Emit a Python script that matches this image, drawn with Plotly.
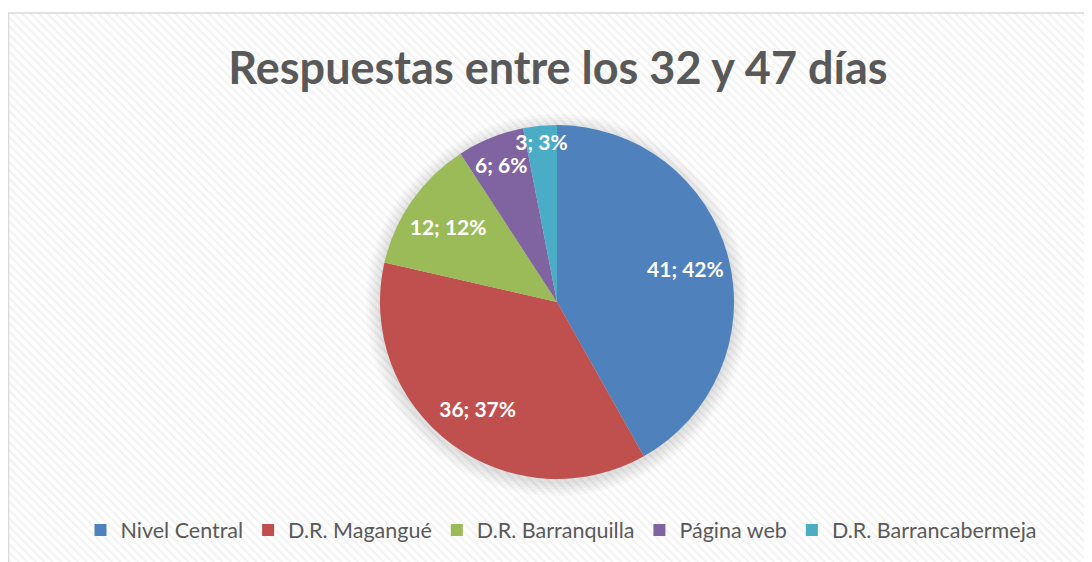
import numpy as np
import plotly.graph_objects as go

categories = ["Nivel Central", "D.R. Magangué", "D.R. Barranquilla", "Página web", "D.R. Barrancabermeja"]
values = [41, 36, 12, 6, 3]
colors = ["#4F81BD", "#C0504D", "#9BBB59", "#8064A2", "#4BACC6"]

W, H = 1092, 562
CX, CY, R = 549, 294, 177  # pie centre / radius in page pixels (from top-left)
dom = dict(x=[(CX - R) / W, (CX + R) / W], y=[(H - CY - R) / H, (H - CY + R) / H])

fig = go.Figure()
# hatched chart-area background (pixel-based axes)
fig.add_trace(go.Bar(x=[W / 2], y=[H - 5], width=[W], base=[0], showlegend=False, hoverinfo="skip",
                     marker=dict(color="white", line=dict(width=0),
                                 pattern=dict(shape="\\", fgcolor="#e6e6e6", bgcolor="white",
                                              size=6, solidity=0.35))))
# soft shadow behind pie
t = np.linspace(0, 2 * np.pi, 181)
for d in (14, 11, 8, 5, 2):
    fig.add_trace(go.Scatter(x=CX + (R + d) * np.cos(t), y=H - (CY + 3) + (R + d) * np.sin(t),
                             mode="lines", fill="toself", fillcolor="rgba(0,0,0,0.025)",
                             line=dict(width=0), showlegend=False, hoverinfo="skip"))
fig.add_trace(go.Pie(
    labels=categories, values=values, sort=False, direction="clockwise", rotation=0,
    marker=dict(colors=colors, line=dict(width=0)),
    textinfo="none", domain=dom, hoverinfo="skip",
))
# label layer
fig.add_trace(go.Pie(
    labels=categories, values=values, sort=False, direction="clockwise", rotation=0,
    hole=0.5, showlegend=False,
    marker=dict(colors=["rgba(0,0,0,0)"] * len(values), line=dict(width=0)),
    texttemplate="%{value}; %{percent:.0%}", textposition="inside",
    insidetextorientation="horizontal",
    textfont=dict(family="Lato", size=21, color="white", weight="bold"),
    domain=dom, hoverinfo="skip",
))
fig.update_layout(
    width=W, height=H, margin=dict(l=0, r=0, t=0, b=0, autoexpand=False),
    paper_bgcolor="white", plot_bgcolor="rgba(0,0,0,0)",
    xaxis=dict(domain=[0, 1], range=[0, W], visible=False, fixedrange=True),
    yaxis=dict(domain=[0, 1], range=[0, H], visible=False, fixedrange=True),
    bargap=0,
    uniformtext=dict(minsize=21, mode="show"),
    title=dict(text="<b>Respuestas entre los 32 y 47 días</b>", x=550 / W, xanchor="center",
               y=(H - 60) / H, yanchor="middle",
               font=dict(family="Lato", size=45, color="#595959")),
    legend=dict(orientation="h", x=553 / W, xanchor="center", y=(H - 522) / H, yanchor="middle",
                font=dict(family="Lato", size=21.5, color="#595959"), itemwidth=30,
                bgcolor="rgba(0,0,0,0)", traceorder="normal"),
    shapes=[dict(type="rect", xref="paper", yref="paper", x0=0.5 / W, x1=1.01, y0=-0.01, y1=(H - 5) / H,
                 fillcolor="rgba(0,0,0,0)", line=dict(color="#d9d9d9", width=1.5), layer="above")],
)
fig.write_html("out.html")
